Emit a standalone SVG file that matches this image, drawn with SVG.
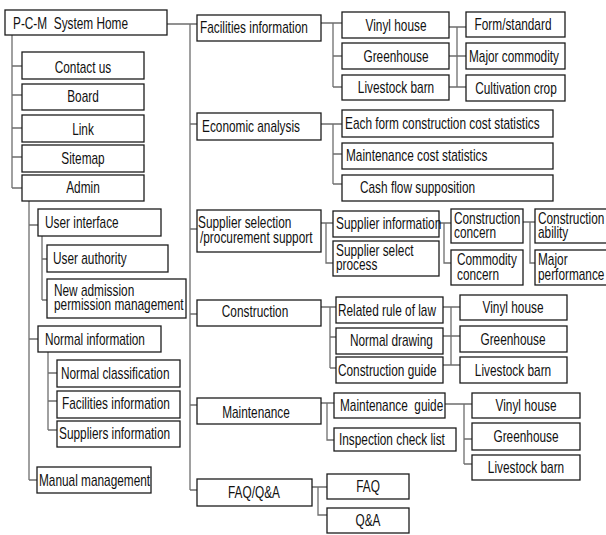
<svg xmlns="http://www.w3.org/2000/svg" width="606" height="535" viewBox="0 0 606 535">
<style>
  rect { fill: #fff; stroke: #1c1c1c; stroke-width: 1.3; }
  .wire { fill: none; stroke: #6e6e6e; stroke-width: 1.3; }
  text { font-family: "Liberation Sans", Arial, sans-serif; font-size: 16px; fill: #111; }
  .m { text-anchor: middle; }
</style>
<rect x="0" y="0" width="606" height="535" style="stroke:none;fill:#fff"/>

<!-- connectors -->
<g id="connectors" class="wire">
  <!-- home to left menu -->
  <path d="M12 35V188M12 66H22M12 95H22M12 128H22M12 157H22M12 188H22"/>
  <!-- admin subtree -->
  <path d="M29 201V480M29 225H38M29 339H38M29 480H37"/>
  <path d="M42 236V300M42 259H47M42 300H47"/>
  <path d="M48 352V430M48 373H57M48 401H57M48 430H57"/>
  <!-- home to main branches -->
  <path d="M167 24H197M190 24V490M190 124H197M190 229H197M190 314H197M190 405H197M190 490H197"/>
  <!-- facilities -->
  <path d="M321 23H342M333 23V87M333 56H342M333 87H342"/>
  <path d="M457 27V87M449 27H466M449 56H466M449 87H466"/>
  <!-- economic analysis -->
  <path d="M321 124H342M333 124V184M333 154H342M333 184H342"/>
  <!-- supplier selection -->
  <path d="M321 223H333M326 223V263H333"/>
  <path d="M439 223H451M444 223V263H451"/>
  <path d="M523 222H535M530 222V263H535"/>
  <!-- construction -->
  <path d="M321 307H336M330 307V368M330 337H336M330 368H336"/>
  <path d="M451 307V365M443 307H460M443 336H460M443 365H460"/>
  <!-- maintenance -->
  <path d="M321 403H334M327 403V440H334"/>
  <path d="M445 404H472M464 404V464M464 439H472M464 464H472"/>
  <!-- faq -->
  <path d="M312 487H327M318 487V515H327"/>
</g>

<!-- left menu -->
<g id="home"><rect x="5" y="10" width="162" height="25"/><text transform="translate(13 28.5) scale(.74 1)" xml:space="preserve">P-C-M  System Home</text></g>
<g id="contact"><rect x="22" y="52" width="122" height="27"/><text class="m" transform="translate(83 72.5) scale(.74 1)">Contact us</text></g>
<g id="board"><rect x="22" y="84" width="122" height="26"/><text class="m" transform="translate(83 102) scale(.74 1)">Board</text></g>
<g id="link"><rect x="22" y="115" width="122" height="27"/><text class="m" transform="translate(83 134.5) scale(.74 1)">Link</text></g>
<g id="sitemap"><rect x="22" y="145" width="122" height="27"/><text class="m" transform="translate(83 164) scale(.74 1)">Sitemap</text></g>
<g id="admin"><rect x="22" y="175" width="122" height="26"/><text class="m" transform="translate(83 193) scale(.74 1)">Admin</text></g>
<g id="user-interface"><rect x="38" y="209" width="123" height="27"/><text transform="translate(45 228) scale(.74 1)">User interface</text></g>
<g id="user-authority"><rect x="47" y="245" width="121" height="27"/><text transform="translate(53 264) scale(.74 1)">User authority</text></g>
<g id="new-admission"><rect x="47" y="279" width="139" height="39"/><text transform="translate(54 296) scale(.74 1)">New admission</text><text transform="translate(54 310) scale(.74 1)">permission management</text></g>
<g id="normal-information"><rect x="38" y="326" width="123" height="26"/><text transform="translate(45 345) scale(.74 1)">Normal information</text></g>
<g id="normal-classification"><rect x="57" y="360" width="123" height="27"/><text transform="translate(61 379) scale(.74 1)">Normal classification</text></g>
<g id="admin-facilities"><rect x="57" y="391" width="123" height="27"/><text transform="translate(62 409) scale(.74 1)">Facilities information</text></g>
<g id="suppliers-information"><rect x="57" y="421" width="123" height="26"/><text transform="translate(59 439) scale(.74 1)">Suppliers information</text></g>
<g id="manual-management"><rect x="37" y="467" width="114" height="26"/><text transform="translate(39 486) scale(.74 1)">Manual management</text></g>

<!-- main branches -->
<g id="facilities"><rect x="197" y="15" width="124" height="26"/><text transform="translate(200 33) scale(.74 1)">Facilities information</text></g>
<g id="economic"><rect x="197" y="113" width="124" height="27"/><text transform="translate(202 132) scale(.74 1)">Economic analysis</text></g>
<g id="supplier"><rect x="197" y="210" width="124" height="42"/><text transform="translate(198 228) scale(.74 1)">Supplier selection</text><text transform="translate(200 243) scale(.74 1)">/procurement support</text></g>
<g id="construction"><rect x="197" y="300" width="124" height="26"/><text class="m" transform="translate(255 317) scale(.74 1)">Construction</text></g>
<g id="maintenance"><rect x="197" y="398" width="124" height="26"/><text class="m" transform="translate(256 418) scale(.74 1)">Maintenance</text></g>
<g id="faq-qa"><rect x="197" y="479" width="115" height="27"/><text class="m" transform="translate(254 498) scale(.74 1)">FAQ/Q&amp;A</text></g>

<!-- facilities subtree -->
<g id="fac-vinyl"><rect x="342" y="12" width="107" height="26"/><text class="m" transform="translate(396 31) scale(.74 1)">Vinyl house</text></g>
<g id="fac-green"><rect x="342" y="43" width="107" height="26"/><text class="m" transform="translate(396 62) scale(.74 1)">Greenhouse</text></g>
<g id="fac-barn"><rect x="342" y="75" width="107" height="25"/><text class="m" transform="translate(396 93) scale(.74 1)">Livestock barn</text></g>
<g id="form-standard"><rect x="466" y="12" width="99" height="25"/><text class="m" transform="translate(513 30) scale(.74 1)">Form/standard</text></g>
<g id="major-commodity"><rect x="466" y="43" width="99" height="26"/><text class="m" transform="translate(514 62) scale(.74 1)">Major commodity</text></g>
<g id="cultivation-crop"><rect x="466" y="75" width="99" height="26"/><text class="m" transform="translate(516 94) scale(.74 1)">Cultivation crop</text></g>

<!-- economic subtree -->
<g id="construction-cost"><rect x="342" y="110" width="211" height="27"/><text transform="translate(345 129) scale(.74 1)">Each form construction cost statistics</text></g>
<g id="maintenance-cost"><rect x="342" y="143" width="211" height="26"/><text transform="translate(346 161) scale(.74 1)">Maintenance cost statistics</text></g>
<g id="cash-flow"><rect x="342" y="175" width="211" height="26"/><text transform="translate(360 193) scale(.74 1)">Cash flow supposition</text></g>

<!-- supplier subtree -->
<g id="supplier-information"><rect x="333" y="211" width="106" height="26"/><text transform="translate(336 229) scale(.74 1)">Supplier information</text></g>
<g id="supplier-process"><rect x="333" y="241" width="106" height="35"/><text transform="translate(336 256) scale(.74 1)">Supplier select</text><text transform="translate(336 270) scale(.74 1)">process</text></g>
<g id="construction-concern"><rect x="451" y="209" width="72" height="34"/><text transform="translate(454 224) scale(.74 1)">Construction</text><text transform="translate(454 238) scale(.74 1)">concern</text></g>
<g id="commodity-concern"><rect x="451" y="250" width="72" height="35"/><text transform="translate(457 265) scale(.74 1)">Commodity</text><text transform="translate(457 280) scale(.74 1)">concern</text></g>
<g id="construction-ability"><rect x="535" y="209" width="80" height="34"/><text transform="translate(538 224) scale(.74 1)">Construction</text><text transform="translate(538 238) scale(.74 1)">ability</text></g>
<g id="major-performance"><rect x="535" y="250" width="80" height="35"/><text transform="translate(538 265) scale(.74 1)">Major</text><text transform="translate(538 280) scale(.74 1)">performance</text></g>

<!-- construction subtree -->
<g id="rule-of-law"><rect x="336" y="297" width="107" height="26"/><text transform="translate(338 316) scale(.74 1)">Related rule of law</text></g>
<g id="normal-drawing"><rect x="336" y="328" width="107" height="26"/><text transform="translate(350 346) scale(.74 1)">Normal drawing</text></g>
<g id="construction-guide"><rect x="336" y="357" width="107" height="26"/><text transform="translate(338 376) scale(.74 1)">Construction guide</text></g>
<g id="con-vinyl"><rect x="460" y="295" width="107" height="25"/><text class="m" transform="translate(513 313) scale(.74 1)">Vinyl house</text></g>
<g id="con-green"><rect x="460" y="326" width="107" height="26"/><text class="m" transform="translate(513 345) scale(.74 1)">Greenhouse</text></g>
<g id="con-barn"><rect x="460" y="357" width="107" height="26"/><text class="m" transform="translate(513 376) scale(.74 1)">Livestock barn</text></g>

<!-- maintenance subtree -->
<g id="maintenance-guide"><rect x="334" y="393" width="111" height="25"/><text transform="translate(340 411) scale(.74 1)" xml:space="preserve">Maintenance  guide</text></g>
<g id="inspection"><rect x="334" y="428" width="122" height="23"/><text transform="translate(339 445) scale(.74 1)">Inspection check list</text></g>
<g id="mnt-vinyl"><rect x="472" y="393" width="108" height="25"/><text class="m" transform="translate(526 411) scale(.74 1)">Vinyl house</text></g>
<g id="mnt-green"><rect x="472" y="423" width="108" height="27"/><text class="m" transform="translate(526 442) scale(.74 1)">Greenhouse</text></g>
<g id="mnt-barn"><rect x="472" y="455" width="108" height="25"/><text class="m" transform="translate(526 473) scale(.74 1)">Livestock barn</text></g>

<!-- faq subtree -->
<g id="faq"><rect x="327" y="474" width="82" height="25"/><text class="m" transform="translate(368 492) scale(.74 1)">FAQ</text></g>
<g id="qa"><rect x="327" y="508" width="82" height="25"/><text class="m" transform="translate(368 526) scale(.74 1)">Q&amp;A</text></g>
</svg>
